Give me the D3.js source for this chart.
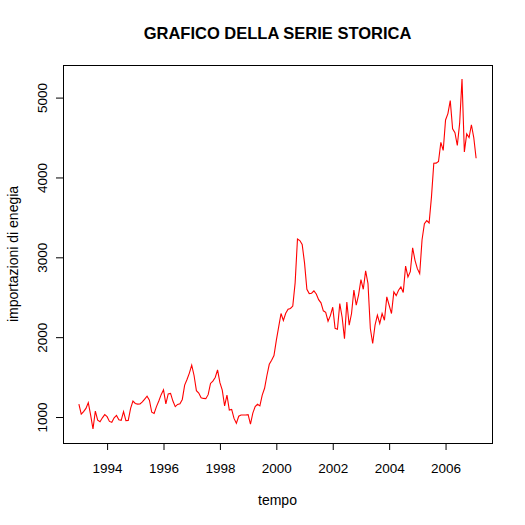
<!DOCTYPE html>
<html lang="it">
<head>
<meta charset="UTF-8">
<title>Grafico della serie storica</title>
<script src="https://d3js.org/d3.v7.min.js"></script>
<style>
    body { margin: 0; background: #fff; }
    svg { display: block; font-family: "Liberation Sans", Arial, sans-serif; }
    .line { fill: none; stroke: #ff0000; stroke-width: 1.1px; }
    .tick line { stroke: #000; }
    .tick text { fill: #000; font-size: 13.5px; }
</style>
</head>
<body>
<svg id="chart"></svg>
<script>
    // monthly series, starting January 1993
    const startYear = 1993;
    const importazioni = [
        1160, 1035, 1067, 1108, 1180, 1025,  850, 1075,  960,  940,  990, 1030, // 1993
        1004,  945,  935,  990, 1020,  965,  958, 1067,  955,  958, 1108, 1200, // 1994
        1170, 1162, 1165, 1190, 1225, 1260, 1210, 1060, 1045, 1130, 1200, 1280, // 1995
        1340, 1165, 1290, 1296, 1200, 1130, 1158, 1167, 1220, 1400, 1470, 1550, // 1996
        1650, 1520, 1330, 1300, 1240, 1233, 1230, 1280, 1421, 1450, 1495, 1590, // 1997
        1430, 1337, 1140, 1275, 1087, 1095,  983,  921, 1010, 1025, 1025, 1025, // 1998
        1030,  912, 1050, 1130, 1160, 1140, 1275, 1360, 1520, 1660, 1710, 1770, // 1999
        1960, 2130, 2296, 2210, 2300, 2350, 2360, 2390, 2680, 3230, 3210, 3160, // 2000
        2930, 2600, 2546, 2550, 2580, 2540, 2470, 2430, 2330, 2310, 2200, 2270, // 2001
        2375, 2110, 2100, 2420, 2250, 1980, 2440, 2150, 2296, 2590, 2400, 2530, // 2002
        2720, 2600, 2830, 2670, 2108, 1921, 2150, 2275, 2171, 2296, 2212, 2504, // 2003
        2400, 2296, 2567, 2520, 2587, 2629, 2560, 2890, 2754, 2820, 3120, 2962, // 2004
        2858, 2796, 3220, 3421, 3460, 3430, 3754, 4179, 4180, 4200, 4440, 4338, // 2005
        4720, 4800, 4962, 4608, 4560, 4400, 4680, 5233, 4320, 4546, 4500, 4660, // 2006
        4500, 4240                                                              // 2007
    ];
    const xTicks = [1994, 1996, 1998, 2000, 2002, 2004, 2006];
    const yTicks = [1000, 2000, 3000, 4000, 5000];

    const W = 525, H = 525;
    const margin = { top: 65, right: 33, bottom: 82, left: 63 };

    const data = importazioni.map((v, i) => ({ t: startYear + i / 12, v: v }));

    const svg = d3.select("#chart").attr("width", W).attr("height", H);

    // R-style 4% padding on both axes
    const pad = ext => { const d = (ext[1] - ext[0]) * 0.04; return [ext[0] - d, ext[1] + d]; };

    const x = d3.scaleLinear()
        .domain(pad(d3.extent(data, d => d.t)))
        .range([margin.left, W - margin.right]);

    const y = d3.scaleLinear()
        .domain(pad(d3.extent(data, d => d.v)))
        .range([H - margin.bottom, margin.top]);

    const line = d3.line()
        .x(d => x(d.t))
        .y(d => y(d.v));

    svg.append("path")
        .datum(data)
        .attr("class", "line")
        .attr("d", line);

    // bottom axis
    const xAxis = svg.append("g")
        .attr("transform", "translate(0," + (H - margin.bottom) + ")")
        .call(d3.axisBottom(x).tickValues(xTicks).tickFormat(d3.format("d")).tickSize(7).tickPadding(13));
    xAxis.select(".domain").remove();

    // left axis, labels rotated like R
    const yAxis = svg.append("g")
        .attr("transform", "translate(" + margin.left + ",0)")
        .call(d3.axisLeft(y).tickValues(yTicks).tickFormat(d3.format("d")).tickSize(7));
    yAxis.select(".domain").remove();
    yAxis.selectAll(".tick text")
        .attr("x", null).attr("dy", null)
        .attr("text-anchor", "middle")
        .attr("transform", "translate(-16,0) rotate(-90)");

    // box
    svg.append("rect")
        .attr("x", margin.left + 0.5)
        .attr("y", margin.top + 0.5)
        .attr("width", W - margin.left - margin.right)
        .attr("height", H - margin.top - margin.bottom)
        .attr("fill", "none")
        .attr("stroke", "#000")
        .attr("stroke-width", 1);

    // titles
    const cx = (margin.left + W - margin.right) / 2;
    svg.append("text")
        .attr("x", cx).attr("y", 39)
        .attr("text-anchor", "middle")
        .attr("font-size", "16.5px")
        .attr("font-weight", "bold")
        .text("GRAFICO DELLA SERIE STORICA");

    svg.append("text")
        .attr("x", cx).attr("y", 505)
        .attr("text-anchor", "middle")
        .attr("font-size", "14px")
        .text("tempo");

    svg.append("text")
        .attr("transform", "translate(18," + ((margin.top + H - margin.bottom) / 2) + ") rotate(-90)")
        .attr("text-anchor", "middle")
        .attr("font-size", "14px")
        .text("importazioni di enegia");
</script>
</body>
</html>
